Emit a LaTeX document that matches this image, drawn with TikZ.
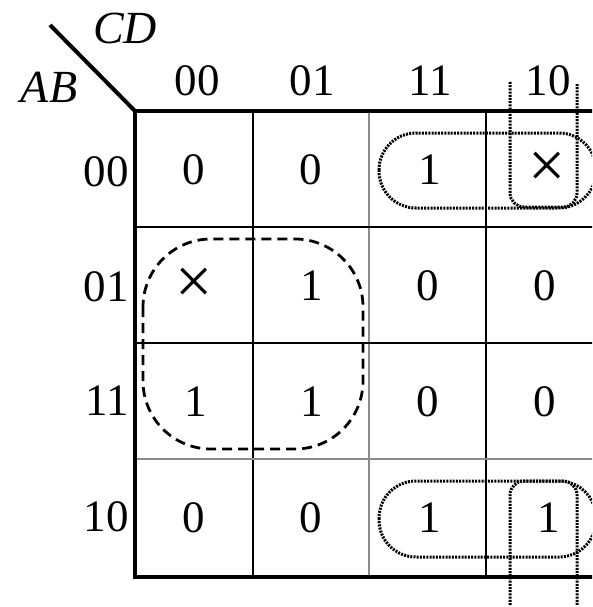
\documentclass[tikz,border=0pt]{standalone}
\usepackage{fontspec}
\setmainfont{Liberation Serif}
\begin{document}
\begin{tikzpicture}[x=1pt,y=-1pt,
  lbl/.style={font=\fontsize{45}{50}\selectfont, inner sep=0pt},
  ent/.style={font=\fontsize{45}{50}\selectfont, inner sep=0pt},
  dc/.style={font=\fontsize{66}{66}\selectfont, inner sep=0pt},
  thickline/.style={line width=4pt, line cap=rect},
  gridblack/.style={line width=1.5pt, black},
  gridgray/.style={line width=2pt, black!45},
  dashloop/.style={line width=2.8pt, dash pattern=on 10pt off 6pt},
  dotloop/.style={line width=3pt, dash pattern=on 2pt off 1.2pt}]
\useasboundingbox (0,0) rectangle (592,607);
\clip (0,0) rectangle (592,607);
% grid
\draw[gridblack] (253,111) -- (253,577);
\draw[gridgray] (369,111) -- (369,577);
\draw[gridblack] (486,111) -- (486,577);
\draw[gridblack] (135,227) -- (600,227);
\draw[gridblack] (135,343) -- (600,343);
\draw[gridgray] (135,459) -- (600,459);
\draw[thickline] (600,111) -- (135,111) -- (135,577) -- (600,577);
\draw[line width=4pt] (50,25) -- (135,111);
% headings
\node[lbl, font=\fontsize{46}{50}\selectfont\itshape] (cd) at (125,28) {CD};
\node[lbl, font=\fontsize{46}{50}\selectfont\itshape] (ab) at (49,87) {AB};
\node[lbl] (c00) at (197,81) {00};
\node[lbl] (c01) at (312,81) {01};
\node[lbl] (c11) at (430,81) {11};
\node[lbl] (c10) at (548,81) {10};
\node[lbl, anchor=east] (r00) at (129,172) {00};
\node[lbl, anchor=east] (r01) at (129,287) {01};
\node[lbl, anchor=east] (r11) at (129,401) {11};
\node[lbl, anchor=east] (r10) at (129,517) {10};
% entries
\node[ent] (m0) at (194,170) {0};
\node[ent] (m1) at (311,170) {0};
\node[ent] (m3) at (430,170) {1};
\node[dc]  (m2) at (547,170) {×};
\node[dc]  (m4) at (194,286) {×};
\node[ent] (m5) at (312,286) {1};
\node[ent] (m7) at (428,286) {0};
\node[ent] (m6) at (545,286) {0};
\node[ent] (m12) at (196,402) {1};
\node[ent] (m13) at (312,402) {1};
\node[ent] (m15) at (428,402) {0};
\node[ent] (m14) at (545,402) {0};
\node[ent] (m8) at (194,518) {0};
\node[ent] (m9) at (311,518) {0};
\node[ent] (m11) at (430,518) {1};
\node[ent] (m10) at (549,518) {1};
% loops
\draw[dashloop, rounded corners=68pt] (143,239) rectangle (363,449);
\draw[dotloop, rounded corners=37pt] (379,133) rectangle (596,208);
\draw[dotloop, rounded corners=37pt] (379,481) rectangle (596,557);
\draw[dotloop, rounded corners=14pt] (510,82) -- (510,207) -- (577,207) -- (577,84);
\draw[dotloop, rounded corners=14pt] (510,605) -- (510,481) -- (577,481) -- (577,605);
\end{tikzpicture}
\end{document}
